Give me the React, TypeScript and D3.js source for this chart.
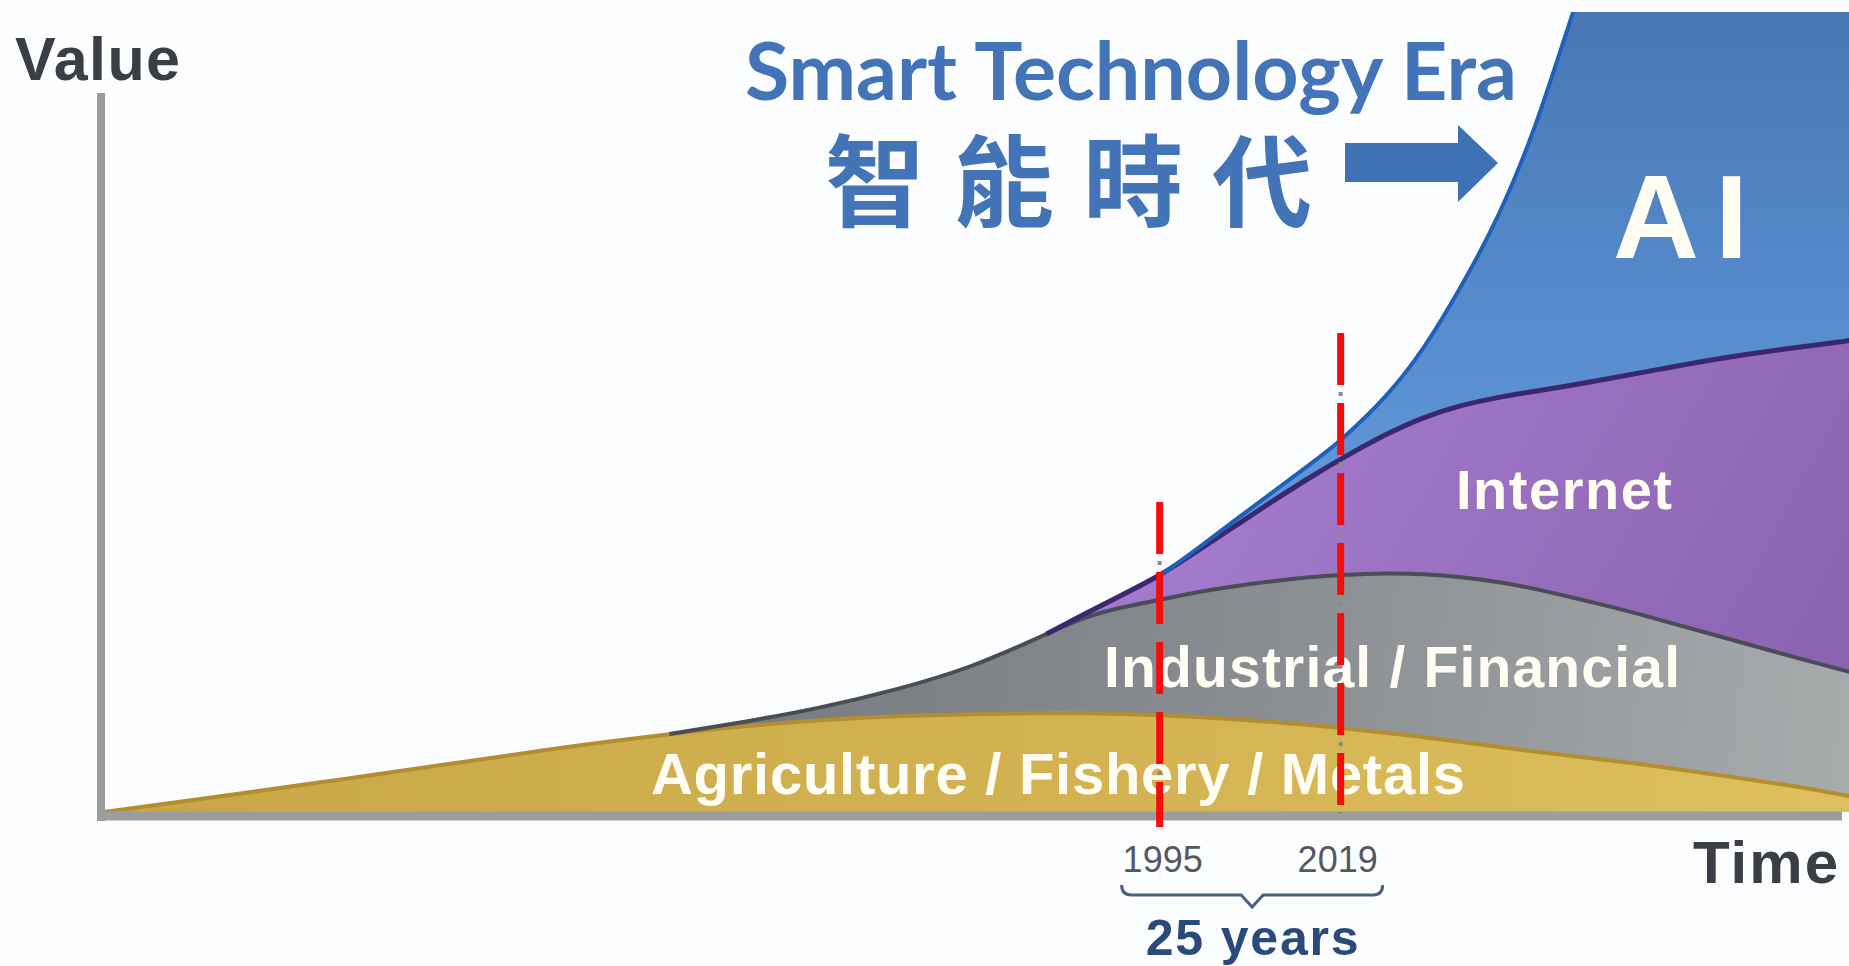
import React from 'react';
import * as d3 from 'd3';

// ---- data (time in years, value in arbitrary units) ----
const years = [1855, 1870, 1885, 1900, 1915, 1930, 1940, 1950, 1960, 1970, 1980, 1985, 1990, 1995, 2000, 2005, 2010, 2015, 2019, 2025, 2030, 2035, 2040, 2045, 2050, 2055, 2060, 2070, 2080, 2087];
const agriculture = [0, 15, 31, 47, 64, 78, 86, 92, 96, 98, 99, 99, 98, 97, 95, 93, 90, 87, 84, 79, 75, 70, 65, 60, 56, 51, 47, 36, 25, 15];
const industrial = [0, 0, 0, 0, 0, 0, 4, 12, 26, 46, 79, 96, 107, 115, 125, 133, 141, 148, 153, 160, 163, 165, 165, 163, 158, 154, 148, 138, 128, 124];
const internet = [0, 0, 0, 0, 0, 0, 0, 0, 0, 0, 0, 3, 12, 24, 41, 60, 80, 100, 116, 139, 157, 172, 185, 198, 213, 229, 246, 281, 312, 333];
const ai = [0, 0, 0, 0, 0, 0, 0, 0, 0, 0, 0, 0, 0, 0, 2, 6, 9, 13, 18, 36, 67, 118, 180, 265, 379, 480, 560, 650, 700, 720];

const layerKeys = ['agriculture', 'industrial', 'internet', 'ai'];
const layerStart = [1855, 1928, 1978, 1994];
const markerYears = [1995, 2019];
const markerTops = [310, 479];
const markerLabels = ['1995', '2019'];

const W = 1849;
const H = 966;

export default function App() {
  const table = years.map((yr, i) => ({
    year: yr,
    agriculture: agriculture[i],
    industrial: industrial[i],
    internet: internet[i],
    ai: ai[i],
  }));

  const x = d3.scaleLinear().domain([1854.5, 2086.4]).range([100, 1849]);
  const y = d3.scaleLinear().domain([0, 800]).range([812, 12]);

  const series = d3.stack<any>().keys(layerKeys)(table);

  const area = d3
    .area<any>()
    .x((d) => x(d.data.year))
    .y0((d) => y(d[0]))
    .y1((d) => y(d[1]))
    .curve(d3.curveBasis);

  const fills = ['url(#gGold)', 'url(#gGray)', 'url(#gPurple)', 'url(#gBlue)'];
  const edges = ['#b48e2c', '#4a4d56', '#3b2770', '#1f60bd'];

  const topLine = (k: number) =>
    d3
      .line<any>()
      .defined((d) => d.data.year >= layerStart[k])
      .x((d) => x(d.data.year))
      .y((d) => y(d[1]))
      .curve(d3.curveBasis);

  const white = '#fffdf4';
  const labelFont = '"Liberation Sans", Arial, sans-serif';

  // brace under the year labels
  const bx0 = x(markerYears[0]) - 38;
  const bx1 = x(markerYears[1]) + 42;
  const bm = (bx0 + bx1) / 2;
  const brace = d3.path();
  brace.moveTo(bx0, 885);
  brace.quadraticCurveTo(bx0, 895, bx0 + 10, 895);
  brace.lineTo(bm - 11, 895);
  brace.lineTo(bm, 907);
  brace.lineTo(bm + 11, 895);
  brace.lineTo(bx1 - 10, 895);
  brace.quadraticCurveTo(bx1, 895, bx1, 885);

  // arrow
  const arrow = d3.path();
  arrow.moveTo(1345, 143);
  arrow.lineTo(1458, 143);
  arrow.lineTo(1458, 125);
  arrow.lineTo(1498, 163);
  arrow.lineTo(1458, 202);
  arrow.lineTo(1458, 182);
  arrow.lineTo(1345, 182);
  arrow.closePath();

  return (
    <svg
      width={W}
      height={H}
      viewBox={`0 0 ${W} ${H}`}
      style={{ position: 'absolute', left: 0, top: 0, display: 'block', background: '#fcfdfe' }}
    >
      <defs>
        <linearGradient id="gGold" gradientUnits="userSpaceOnUse" x1="100" y1="0" x2="1849" y2="0">
          <stop offset="0" stopColor="#c9a747" />
          <stop offset="0.6" stopColor="#d4b452" />
          <stop offset="1" stopColor="#dec05f" />
        </linearGradient>
        <linearGradient id="gGray" gradientUnits="userSpaceOnUse" x1="650" y1="600" x2="1849" y2="760">
          <stop offset="0" stopColor="#74787e" />
          <stop offset="0.45" stopColor="#878a8e" />
          <stop offset="1" stopColor="#a8abac" />
        </linearGradient>
        <linearGradient id="gPurple" gradientUnits="userSpaceOnUse" x1="1300" y1="380" x2="1849" y2="680">
          <stop offset="0" stopColor="#a37acb" />
          <stop offset="1" stopColor="#8a62ae" />
        </linearGradient>
        <linearGradient id="gBlue" gradientUnits="userSpaceOnUse" x1="0" y1="12" x2="0" y2="460">
          <stop offset="0" stopColor="#4977b4" />
          <stop offset="1" stopColor="#5d95d8" />
        </linearGradient>
        <clipPath id="plotClip">
          <rect x={100} y={12} width={W - 100} height={800} />
        </clipPath>
      </defs>

      <rect x={0} y={0} width={W} height={H} fill="#fcfdfe" />

      {/* stacked areas */}
      <g clipPath="url(#plotClip)">
        {series.map((s, i) => (
          <path key={layerKeys[i]} d={area(s as any) || ''} fill={fills[i]} />
        ))}
        {series.map((s, i) => (
          <path
            key={'e' + layerKeys[i]}
            d={topLine(i)(s as any) || ''}
            fill="none"
            stroke={edges[i]}
            strokeWidth={i === 2 ? 5 : 4}
            strokeLinejoin="round"
          />
        ))}
      </g>

      {/* axes */}
      <line x1={101} y1={93} x2={101} y2={821} stroke="#9c9d9f" strokeWidth={8} />
      <line x1={97} y1={816} x2={1842} y2={816} stroke="#9c9d9f" strokeWidth={9} />

      {/* layer labels */}
      <text x={1613} y={258} fill={white} fontFamily={labelFont} fontWeight={700} fontSize={119} letterSpacing={16}>
        AI
      </text>
      <text x={1456} y={509} fill={white} fontFamily={labelFont} fontWeight={700} fontSize={56} textLength={216}>
        Internet
      </text>
      <text x={1104} y={687} fill={white} fontFamily={labelFont} fontWeight={700} fontSize={57} textLength={576}>
        Industrial / Financial
      </text>
      <text x={651} y={794} fill={white} fontFamily={labelFont} fontWeight={700} fontSize={58} textLength={814}>
        Agriculture / Fishery / Metals
      </text>

      {/* markers */}
      {markerYears.map((yr, i) => (
        <g key={'m' + yr}>
          <line
            x1={x(yr)}
            x2={x(yr)}
            y1={y(markerTops[i])}
            y2={i === 0 ? 827 : 814}
            stroke="#8a8a8a"
            strokeWidth={4}
            strokeDasharray="4 66"
            strokeDashoffset={-59}
          />
          <line
            x1={x(yr)}
            x2={x(yr)}
            y1={y(markerTops[i])}
            y2={i === 0 ? 827 : 814}
            stroke="#f40d0d"
            strokeWidth={7}
            strokeDasharray="52 18"
          />
          <text
            x={x(yr) + (i === 0 ? 3 : -3)}
            y={872}
            fill="#55595f"
            fontFamily={labelFont}
            fontSize={36}
            textAnchor="middle"
          >
            {markerLabels[i]}
          </text>
        </g>
      ))}
      <path d={brace.toString()} fill="none" stroke="#4b5f7e" strokeWidth={3} />
      <text x={bm} y={955} fill="#2b4a7c" fontFamily={labelFont} fontWeight={700} fontSize={50} textAnchor="middle" textLength={213}>
        25 years
      </text>

      {/* axis titles */}
      <text x={15} y={80} fill="#3b3e45" fontFamily={labelFont} fontWeight={700} fontSize={61} textLength={165}>
        Value
      </text>
      <text x={1693} y={883} fill="#3b3e45" fontFamily={labelFont} fontWeight={700} fontSize={60} textLength={145}>
        Time
      </text>

      {/* headline */}
      <text x={745} y={100} fill="#4274b7" fontFamily="Lato, 'Open Sans', sans-serif" fontWeight={700} fontSize={80} textLength={772} lengthAdjust="spacingAndGlyphs">
        Smart Technology Era
      </text>
      <text x={825} y={219} fill="#4274b7" fontFamily="'Noto Sans CJK TC', 'Noto Sans CJK SC', sans-serif" fontWeight={700} fontSize={100} textLength={487}>
        智 能 時 代
      </text>
      <path d={arrow.toString()} fill="#3f72b5" />
    </svg>
  );
}
